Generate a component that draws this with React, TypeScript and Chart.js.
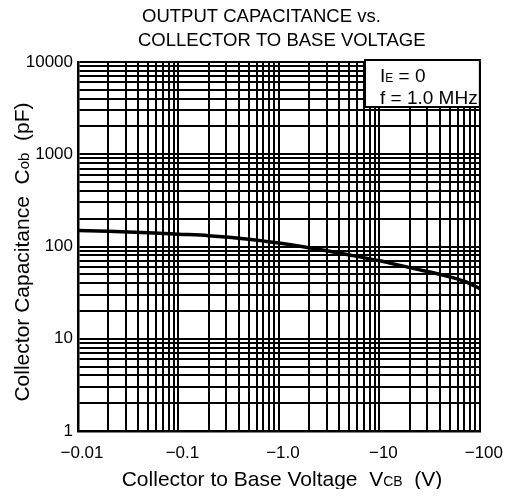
import React, { useEffect, useRef } from "react";
import { Chart, registerables } from "chart.js";

Chart.register(...registerables);

// Collector-to-base voltage (V) and output capacitance (pF)
const voltage = [-0.01, -0.02, -0.05, -0.1, -0.2, -0.5, -1, -2, -5, -10, -20, -50, -70, -100];
const capacitance = [149, 146, 141, 136, 131, 120, 109, 97, 81, 70, 59, 47, 42, 35];

const xDecades = [0.01, 0.1, 1, 10, 100];
const xTickLabels = ["\u22120.01", "\u22120.1", "\u22121.0", "\u221210", "\u2212100"];
const yDecades = [1, 10, 100, 1000, 10000];
const yTickLabels = ["1", "10", "100", "1000", "10000"];

const titleLines = ["OUTPUT CAPACITANCE vs.", "COLLECTOR TO BASE VOLTAGE"];
const FONT = "'Liberation Sans', Arial, Helvetica, sans-serif";

function gridValues(decades: number[]) {
  const out: number[] = [];
  for (let i = 0; i < decades.length - 1; i++) {
    for (let k = 1; k <= 9; k++) out.push(+(decades[i] * k).toPrecision(6));
  }
  out.push(decades[decades.length - 1]);
  return out;
}

type Run = { t: string; size: number; dy?: number };

function runsWidth(ctx: CanvasRenderingContext2D, runs: Run[]) {
  let w = 0;
  for (const r of runs) {
    ctx.font = `${r.size}px ${FONT}`;
    w += ctx.measureText(r.t).width;
  }
  return w;
}

function drawRuns(ctx: CanvasRenderingContext2D, runs: Run[], x: number, y: number) {
  let cx = x;
  ctx.textBaseline = "alphabetic";
  ctx.textAlign = "left";
  for (const r of runs) {
    ctx.font = `${r.size}px ${FONT}`;
    ctx.fillText(r.t, cx, y + (r.dy || 0));
    cx += ctx.measureText(r.t).width;
  }
}

const overlayPlugin = {
  id: "overlay",
  afterDraw(chart: any) {
    const ctx: CanvasRenderingContext2D = chart.ctx;
    const area = chart.chartArea;
    ctx.save();
    ctx.fillStyle = "#000";

    // Title (two lines, left aligned)
    ctx.font = `18.5px ${FONT}`;
    ctx.textAlign = "left";
    ctx.textBaseline = "alphabetic";
    ctx.fillText(titleLines[0], 134, 14);
    ctx.fillText(titleLines[1], 130, 38);

    // Legend box
    const bx = 357, by = area.top - 2, bw = area.right - 357, bh = 47;
    ctx.fillStyle = "#fff";
    ctx.fillRect(bx, by, bw, bh);
    ctx.strokeStyle = "#000";
    ctx.lineWidth = 2;
    ctx.strokeRect(bx, by, bw, bh);
    ctx.fillStyle = "#000";
    drawRuns(ctx, [{ t: "I", size: 19 }, { t: "E", size: 12 }, { t: " = 0", size: 19 }], 372, 74);
    drawRuns(ctx, [{ t: "f = 1.0 MHz", size: 19 }], 372, 96);

    // X axis title
    const xr: Run[] = [
      { t: "Collector to Base Voltage  V", size: 21 },
      { t: "CB", size: 14 },
      { t: "  (V)", size: 21 },
    ];
    const xw = runsWidth(ctx, xr);
    drawRuns(ctx, xr, 274 - xw / 2, 478);

    // Y axis title (rotated)
    const yr: Run[] = [
      { t: "Collector Capacitance  C", size: 21 },
      { t: "ob", size: 15 },
      { t: "  (pF)", size: 21 },
    ];
    const yw = runsWidth(ctx, yr);
    ctx.translate(21, 244);
    ctx.rotate(-Math.PI / 2);
    drawRuns(ctx, yr, -yw / 2, 0);
    ctx.restore();
  },
};

export default function App() {
  const ref = useRef<HTMLCanvasElement | null>(null);

  useEffect(() => {
    if (!ref.current) return;
    const xGrid = gridValues(xDecades);
    const yGrid = gridValues(yDecades);
    const xLabelOf = (v: number) => {
      const i = xDecades.findIndex((d) => Math.abs(d - v) / d < 1e-6);
      return i >= 0 ? xTickLabels[i] : "";
    };
    const yLabelOf = (v: number) => {
      const i = yDecades.findIndex((d) => Math.abs(d - v) / d < 1e-6);
      return i >= 0 ? yTickLabels[i] : "";
    };

    const chart = new Chart(ref.current, {
      type: "line",
      data: {
        datasets: [
          {
            data: voltage.map((v, i) => ({ x: Math.abs(v), y: capacitance[i] })),
            borderColor: "#000",
            borderWidth: 3.5,
            pointRadius: 0,
            tension: 0.4,
            cubicInterpolationMode: "monotone",
            fill: false,
          },
        ],
      },
      options: {
        responsive: false,
        animation: false,
        layout: { padding: { top: 54, right: 22, left: 0, bottom: 0 } },
        plugins: {
          legend: { display: false },
          tooltip: { enabled: false },
          title: { display: false },
        },
        scales: {
          x: {
            type: "logarithmic",
            min: 0.01,
            max: 100,
            afterBuildTicks: (axis: any) => {
              axis.ticks = xGrid.map((v) => ({ value: v }));
            },
            afterFit: (axis: any) => {
              axis.height = 58;
            },
            ticks: {
              autoSkip: false,
              maxRotation: 0,
              minRotation: 0,
              padding: 12,
              labelOffset: 4,
              color: "#000",
              font: { family: FONT, size: 17 },
              callback: (v: any) => xLabelOf(Number(v)),
            },
            grid: { color: "#000", lineWidth: 2, drawTicks: false },
            border: { display: true, color: "#000", width: 2.5 },
          },
          y: {
            type: "logarithmic",
            min: 1,
            max: 10000,
            afterBuildTicks: (axis: any) => {
              axis.ticks = yGrid.map((v) => ({ value: v }));
            },
            afterFit: (axis: any) => {
              axis.width = 70;
            },
            ticks: {
              autoSkip: false,
              padding: 5,
              color: "#000",
              font: { family: FONT, size: 17 },
              callback: (v: any) => yLabelOf(Number(v)),
            },
            grid: { color: "#000", lineWidth: 2, drawTicks: false },
            border: { display: true, color: "#000", width: 2.5 },
          },
        },
      },
      plugins: [overlayPlugin],
    } as any);
    return () => chart.destroy();
  }, []);

  return (
    <canvas
      ref={ref}
      width={503}
      height={481}
      style={{ display: "block", width: 503, height: 481 }}
    />
  );
}
